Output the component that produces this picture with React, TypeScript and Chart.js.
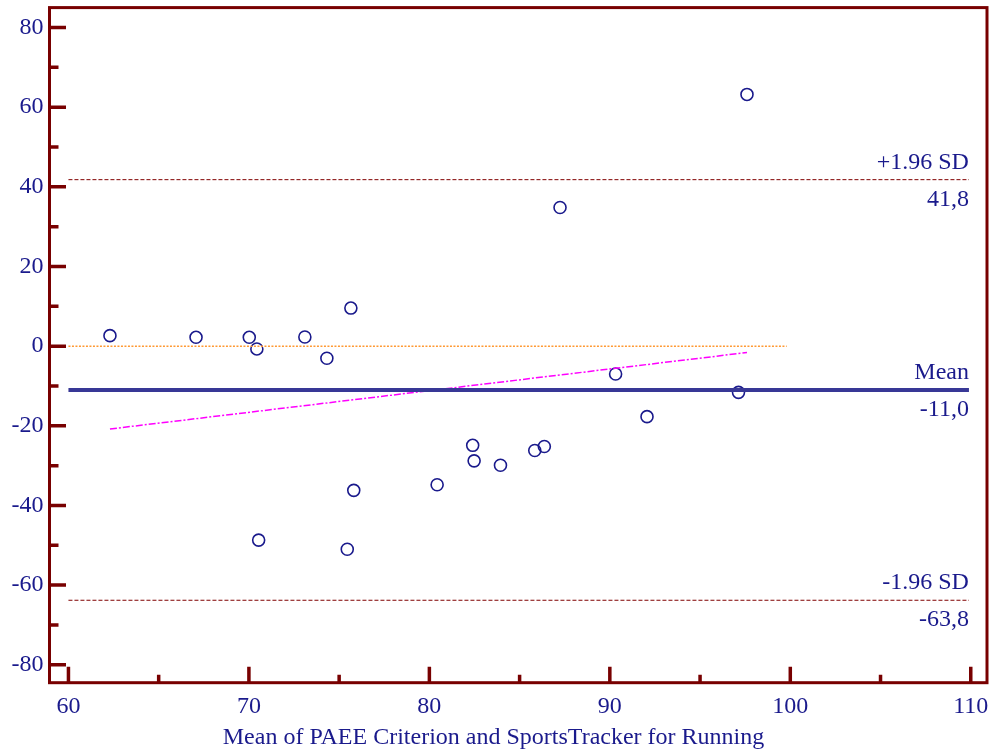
import React, { useEffect, useRef } from "react";
import { Chart, registerables } from "chart.js";

Chart.register(...registerables);

// ---- data ----
const meanValues = [62.3, 67.07, 70.02, 70.44, 73.1, 74.32, 75.65, 70.54, 75.45, 75.81, 80.43, 82.4, 82.48, 83.94, 85.84, 86.37, 87.24, 90.32, 92.06, 97.13, 97.6];
const differences = [2.63, 2.22, 2.22, -0.7, 2.3, -3.03, 9.56, -48.7, -51.0, -36.2, -34.8, -24.9, -28.8, -29.9, -26.2, -25.2, 34.8, -7.0, -17.7, -11.6, 63.2];

const xTickValues = [60, 70, 80, 90, 100, 110];
const xMinorTicks = [65, 75, 85, 95, 105];
const yTickValues = [-80, -60, -40, -20, 0, 20, 40, 60, 80];
const yMinorTicks = [-70, -50, -30, -10, 10, 30, 50, 70];

const meanDiff = -11.0;
const upperLoA = 41.8;
const lowerLoA = -63.8;
const refLineX = [60, 109.9];
const zeroLineX = [60, 99.8];
const regressionX = [62.3, 97.6];
const regressionY = [-20.8, -1.6];

const refLabels = [
  { value: upperLoA, above: "+1.96 SD", below: "41,8" },
  { value: meanDiff, above: "Mean", below: "-11,0" },
  { value: lowerLoA, above: "-1.96 SD", below: "-63,8" },
];

const xTitle = "Mean of PAEE Criterion and SportsTracker for Running";

const FONT = "'Liberation Serif', 'Times New Roman', serif";
const NAVY = "#1a1a8c";
const MAROON = "#780000";

const framePlugin = {
  id: "frame",
  afterDraw(chart: any) {
    const { ctx, chartArea, scales } = chart;
    const xs = scales.x;
    const ys = scales.y;
    ctx.save();
    ctx.strokeStyle = MAROON;
    ctx.lineWidth = 3;
    ctx.strokeRect(chartArea.left, chartArea.top, chartArea.right - chartArea.left, chartArea.bottom - chartArea.top);
    ctx.lineWidth = 3.5;
    ctx.beginPath();
    for (const v of yTickValues) {
      const y = ys.getPixelForValue(v);
      ctx.moveTo(chartArea.left, y);
      ctx.lineTo(chartArea.left + 16.5, y);
    }
    for (const v of yMinorTicks) {
      const y = ys.getPixelForValue(v);
      ctx.moveTo(chartArea.left, y);
      ctx.lineTo(chartArea.left + 9, y);
    }
    for (const v of xTickValues) {
      const x = xs.getPixelForValue(v);
      ctx.moveTo(x, chartArea.bottom);
      ctx.lineTo(x, chartArea.bottom - 16);
    }
    for (const v of xMinorTicks) {
      const x = xs.getPixelForValue(v);
      ctx.moveTo(x, chartArea.bottom);
      ctx.lineTo(x, chartArea.bottom - 8);
    }
    ctx.stroke();

    // reference line labels
    ctx.fillStyle = NAVY;
    ctx.font = `24px ${FONT}`;
    ctx.textAlign = "right";
    ctx.textBaseline = "alphabetic";
    const xr = xs.getPixelForValue(refLineX[1]);
    for (const l of refLabels) {
      const y = ys.getPixelForValue(l.value);
      ctx.fillText(l.above, xr, y - 11);
      ctx.fillText(l.below, xr, y + 26);
    }
    ctx.restore();
  },
};

export default function App() {
  const canvasRef = useRef<HTMLCanvasElement | null>(null);

  useEffect(() => {
    if (!canvasRef.current) return;
    const chart = new Chart(canvasRef.current, {
      type: "scatter",
      data: {
        datasets: [
          {
            type: "line",
            label: "upper",
            data: refLineX.map((x) => ({ x, y: upperLoA })),
            borderColor: "#800000",
            borderWidth: 1,
            borderDash: [4, 2],
            pointRadius: 0,
          },
          {
            type: "line",
            label: "lower",
            data: refLineX.map((x) => ({ x, y: lowerLoA })),
            borderColor: "#800000",
            borderWidth: 1,
            borderDash: [4, 2],
            pointRadius: 0,
          },
          {
            type: "line",
            label: "zero",
            data: zeroLineX.map((x) => ({ x, y: 0 })),
            borderColor: "#ff9933",
            borderWidth: 1.5,
            borderDash: [2, 1.5],
            pointRadius: 0,
          },
          {
            type: "line",
            label: "mean",
            data: refLineX.map((x) => ({ x, y: meanDiff })),
            borderColor: "#383896",
            borderWidth: 4,
            pointRadius: 0,
          },
          {
            type: "line",
            label: "regression",
            data: regressionX.map((x, i) => ({ x, y: regressionY[i] })),
            borderColor: "#ff00ff",
            borderWidth: 1.5,
            borderDash: [7, 2, 2, 2],
            pointRadius: 0,
          },
          {
            type: "scatter",
            label: "points",
            data: meanValues.map((x, i) => ({ x, y: differences[i] })),
            borderColor: NAVY,
            backgroundColor: "rgba(0,0,0,0)",
            pointRadius: 6,
            borderWidth: 1.6,
          },
        ],
      },
      options: {
        animation: false,
        responsive: true,
        maintainAspectRatio: false,
        layout: { padding: { top: 7.5, right: 8, left: 0, bottom: 0 } },
        plugins: {
          legend: { display: false },
          tooltip: { enabled: false },
          title: {
            display: true,
            position: "bottom",
            text: xTitle,
            color: NAVY,
            font: { family: FONT, size: 24, weight: "normal", lineHeight: 1.2 },
            padding: { top: 0, bottom: 3.6 },
          },
        },
        scales: {
          x: {
            type: "linear",
            min: 58.95,
            max: 110.9,
            grid: { display: false, drawTicks: false },
            border: { display: false },
            afterBuildTicks: (scale: any) => {
              scale.ticks = xTickValues.map((v) => ({ value: v }));
            },
            afterFit: (scale: any) => {
              scale.height = 40.9;
              scale.paddingLeft = 0;
              scale.paddingRight = 0;
            },
            ticks: {
              color: NAVY,
              font: { family: FONT, size: 24 },
              padding: 10,
              maxRotation: 0,
              callback: (v: any) => String(v),
            },
          },
          y: {
            type: "linear",
            min: -84.5,
            max: 85,
            grid: { display: false, drawTicks: false },
            border: { display: false },
            afterBuildTicks: (scale: any) => {
              scale.ticks = yTickValues.map((v) => ({ value: v }));
            },
            afterFit: (scale: any) => {
              scale.width = 49.5;
              scale.paddingTop = 0;
              scale.paddingBottom = 0;
            },
            ticks: {
              color: NAVY,
              font: { family: FONT, size: 24 },
              padding: 6,
              callback: (v: any) => String(v),
            },
          },
        },
      },
      plugins: [framePlugin],
    });
    return () => chart.destroy();
  }, []);

  return (
    <div style={{ position: "absolute", left: 0, top: 0, width: 995, height: 756 }}>
      <canvas ref={canvasRef} />
    </div>
  );
}
